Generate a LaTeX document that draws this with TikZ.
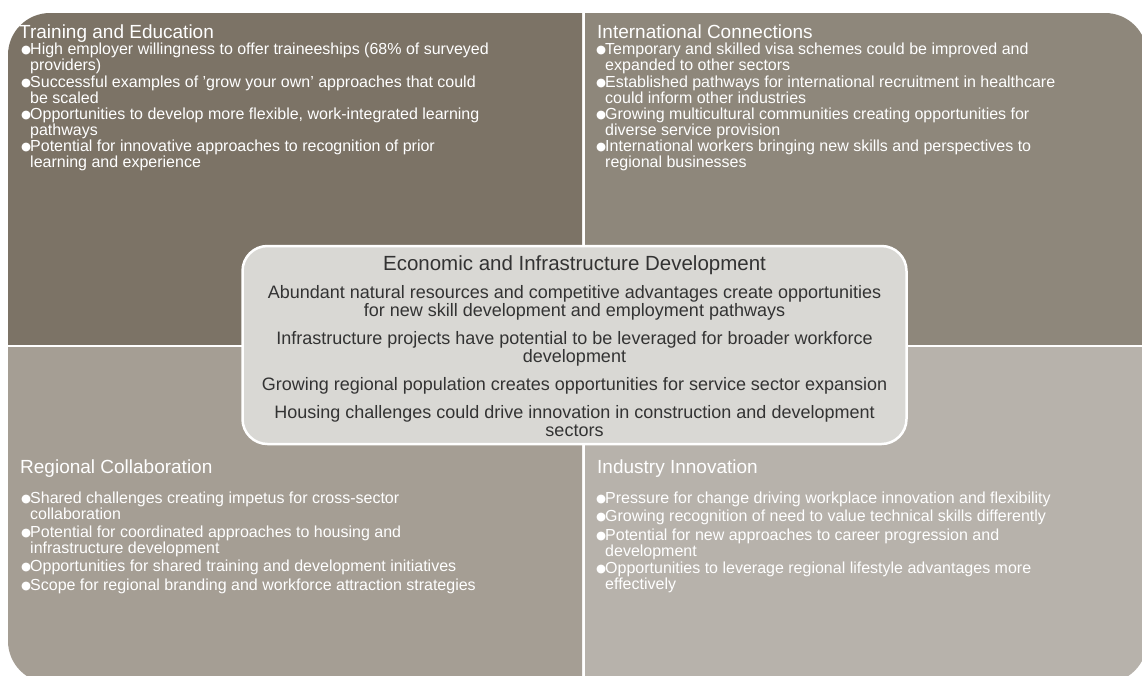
\documentclass[tikz,border=0pt]{standalone}
\usepackage{fontspec}
\setmainfont{Liberation Sans}
\newfontfamily\symfont{DejaVu Sans}
\definecolor{qTL}{HTML}{7C7366}
\definecolor{qTR}{HTML}{8E877B}
\definecolor{qBL}{HTML}{A59E94}
\definecolor{qBR}{HTML}{B7B2AB}
\definecolor{hubfill}{HTML}{D9D8D4}
\definecolor{hubtext}{HTML}{333333}
% font settings
\newcommand\qtitlefont{\fontsize{19}{22}\selectfont}
\newcommand\qbodyfont{\fontsize{16}{15.5}\selectfont\lineskiplimit=-\maxdimen}
\newcommand\htitlefont{\fontsize{20.5}{24}\selectfont}
\newcommand\hbodyfont{\fontsize{18}{18}\selectfont\lineskiplimit=-\maxdimen}
% bulleted entries: first baseline is the node baseline
\newcommand\bul{\makebox[8pt][l]{\hspace*{-1pt}\raisebox{0.6pt}{\symfont\fontsize{11.5}{11.5}\selectfont ●}}}
\newcommand\itmA[1]{\vtop{\hbox{\bul#1}}}
\newcommand\itmB[2]{\vtop{\hbox{\bul#1}\hbox{\hspace*{8pt}#2}}}
% centred lines for the hub
\newcommand\cl[1]{\hbox to 700pt{\hfil#1\hfil}}
\newcommand\parA[1]{\vtop{\cl{#1}}}
\newcommand\parB[2]{\vtop{\cl{#1}\cl{#2}}}
\begin{document}
\begin{tikzpicture}[x=1pt,y=-1pt,
  qtitle/.style={anchor=base west,inner sep=0pt,text=white,font=\qtitlefont},
  qitem/.style={anchor=base west,inner sep=0pt,text=white,font=\qbodyfont},
  htitle/.style={anchor=base,inner sep=0pt,text=hubtext,font=\htitlefont},
  hitem/.style={anchor=base,inner sep=0pt,text=hubtext,font=\hbodyfont},
  hubbox/.style={draw=white,line width=2.5pt,fill=hubfill,rounded corners=25pt,
    minimum width=664pt,minimum height=198pt,inner sep=0pt}]
\useasboundingbox (0,0) rectangle (1142,675);
\fill[white] (0,0) rectangle (1142,675);

% four quadrants cut from one rounded panel
\begin{scope}
  \clip (0,0) rectangle (582,344.5);
  \fill[qTL,rounded corners=42pt] (8,13) rectangle (1147,683);
\end{scope}
\begin{scope}
  \clip (585,0) rectangle (1142,344.5);
  \fill[qTR,rounded corners=42pt] (8,13) rectangle (1147,683);
\end{scope}
\begin{scope}
  \clip (0,347.5) rectangle (582,675);
  \fill[qBL,rounded corners=42pt] (8,13) rectangle (1147,683);
\end{scope}
\begin{scope}
  \clip (585,347.5) rectangle (1142,675);
  \fill[qBR,rounded corners=42pt] (8,13) rectangle (1147,683);
\end{scope}

% Training and Education
\node[qtitle] (tlT) at (19,38) {Training and Education};
\node[qitem] (tl1) at (22,54.5) {\itmB{High employer willingness to offer traineeships (68\% of surveyed}{providers)}};
\node[qitem] (tl2) at (22,87.5) {\itmB{Successful examples of 'grow your own' approaches that could}{be scaled}};
\node[qitem] (tl3) at (22,119.5) {\itmB{Opportunities to develop more flexible, work-integrated learning}{pathways}};
\node[qitem] (tl4) at (22,151.5) {\itmB{Potential for innovative approaches to recognition of prior}{learning and experience}};

% International Connections
\node[qtitle] (trT) at (597,38) {International Connections};
\node[qitem] (tr1) at (597,54.5) {\itmB{Temporary and skilled visa schemes could be improved and}{expanded to other sectors}};
\node[qitem] (tr2) at (597,87.5) {\itmB{Established pathways for international recruitment in healthcare}{could inform other industries}};
\node[qitem] (tr3) at (597,119.5) {\itmB{Growing multicultural communities creating opportunities for}{diverse service provision}};
\node[qitem] (tr4) at (597,151.5) {\itmB{International workers bringing new skills and perspectives to}{regional businesses}};

% Regional Collaboration
\node[qtitle] (blT) at (20,473) {Regional Collaboration};
\node[qitem] (bl1) at (22,503.5) {\itmB{Shared challenges creating impetus for cross-sector}{collaboration}};
\node[qitem] (bl2) at (22,537.5) {\itmB{Potential for coordinated approaches to housing and}{infrastructure development}};
\node[qitem] (bl3) at (22,571.5) {\itmA{Opportunities for shared training and development initiatives}};
\node[qitem] (bl4) at (22,590.5) {\itmA{Scope for regional branding and workforce attraction strategies}};

% Industry Innovation
\node[qtitle] (brT) at (597,473) {Industry Innovation};
\node[qitem] (br1) at (597,503.5) {\itmA{Pressure for change driving workplace innovation and flexibility}};
\node[qitem] (br2) at (597,521.5) {\itmA{Growing recognition of need to value technical skills differently}};
\node[qitem] (br3) at (597,540.5) {\itmB{Potential for new approaches to career progression and}{development}};
\node[qitem] (br4) at (597,573.5) {\itmB{Opportunities to leverage regional lifestyle advantages more}{effectively}};

% central hub
\node[hubbox] (hub) at (574.5,345) {};
\node[htitle] (hT) at (574.5,270.5) {Economic and Infrastructure Development};
\node[hitem] (h1) at (574.5,298.5) {\parB{Abundant natural resources and competitive advantages create opportunities}{for new skill development and employment pathways}};
\node[hitem] (h2) at (574.5,344.5) {\parB{Infrastructure projects have potential to be leveraged for broader workforce}{development}};
\node[hitem] (h3) at (574.5,390.5) {\parA{Growing regional population creates opportunities for service sector expansion}};
\node[hitem] (h4) at (574.5,418.5) {\parB{Housing challenges could drive innovation in construction and development}{sectors}};
\end{tikzpicture}
\end{document}
